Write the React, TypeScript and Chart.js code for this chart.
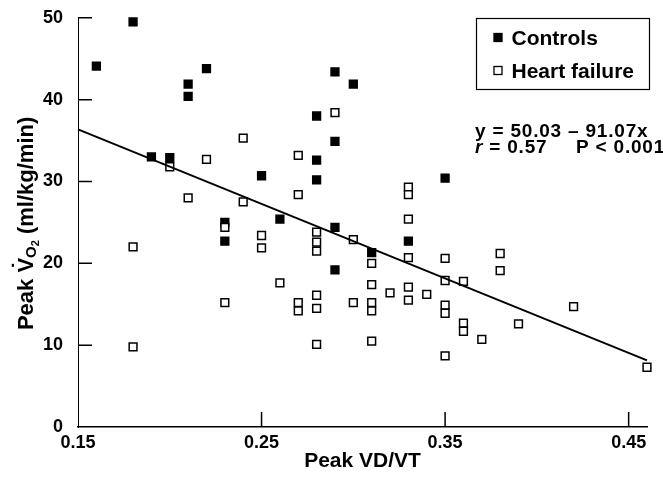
import React, { useEffect, useRef } from "react";
import { Chart, registerables } from "chart.js";

Chart.register(...registerables);

const FONT = '"Liberation Sans", Arial, Helvetica, sans-serif';

const seriesNames = ["Controls", "Heart failure"];

const controlsX = [0.16, 0.18, 0.19, 0.2, 0.21, 0.21, 0.22, 0.23, 0.23, 0.25, 0.26, 0.28, 0.28, 0.28, 0.29, 0.29, 0.29, 0.29, 0.3, 0.31, 0.33, 0.35];
const controlsY = [44.1, 49.5, 33.0, 32.9, 41.9, 40.4, 43.8, 25.0, 22.7, 30.7, 25.4, 38.0, 32.6, 30.2, 43.4, 34.9, 24.4, 19.2, 41.9, 21.3, 22.7, 30.4];

const heartX = [
  0.18, 0.18, 0.2, 0.21, 0.22, 0.23, 0.23, 0.24, 0.24, 0.25, 0.25, 0.26, 0.27, 0.27, 0.27, 0.27,
  0.28, 0.28, 0.28, 0.28, 0.28, 0.28, 0.29, 0.3, 0.3, 0.31, 0.31, 0.31, 0.31, 0.31, 0.32,
  0.33, 0.33, 0.33, 0.33, 0.33, 0.33, 0.34, 0.35, 0.35, 0.35, 0.35, 0.35, 0.36, 0.36, 0.36,
  0.37, 0.38, 0.38, 0.39, 0.42, 0.46,
];
const heartY = [
  22.0, 9.8, 31.8, 28.0, 32.7, 24.4, 15.2, 35.3, 27.5, 23.4, 21.9, 17.6, 33.2, 28.4, 15.2, 14.2,
  23.8, 22.6, 21.5, 16.1, 14.5, 10.1, 38.4, 22.9, 15.2, 20.0, 17.4, 15.2, 14.2, 10.5, 16.4,
  29.3, 28.4, 25.4, 20.7, 17.1, 15.5, 16.2, 20.6, 17.9, 14.9, 13.9, 8.7, 17.8, 12.7, 11.7,
  10.7, 21.2, 19.1, 12.6, 14.7, 7.3,
];

// regression line end points (y = 50.03 - 91.07x)
const fitX = [0.15, 0.46];
const fitY = [36.37, 8.14];

const xTicks = [0.15, 0.25, 0.35, 0.45];
const yTicks = [0, 10, 20, 30, 40, 50];

const xTitle = "Peak VD/VT";
const eqLine1 = "y = 50.03 \u2013 91.07x";
const eqR = "r";
const eqRVal = " = 0.57";
const eqP = "P < 0.001";

const pts = (xs: number[], ys: number[]) => xs.map((x, i) => ({ x, y: ys[i] }));

const decorPlugin = {
  id: "decor",
  afterDraw(chart: any) {
    const { ctx, chartArea: ca, scales } = chart;
    const sx = scales.x;
    const sy = scales.y;
    ctx.save();
    // inward ticks
    ctx.strokeStyle = "#000";
    ctx.lineWidth = 1.5;
    ctx.beginPath();
    yTicks.forEach((v) => {
      if (v === yTicks[0]) return;
      const py = sy.getPixelForValue(v);
      ctx.moveTo(ca.left, py);
      ctx.lineTo(ca.left + 14, py);
    });
    xTicks.forEach((v) => {
      if (v === xTicks[0]) return;
      const px = sx.getPixelForValue(v);
      ctx.moveTo(px, ca.bottom);
      ctx.lineTo(px, ca.bottom - 15);
    });
    ctx.stroke();

    ctx.fillStyle = "#000";
    const big = `bold 21px ${FONT}`;
    const bigY = `bold 22px ${FONT}`;

    // x title
    ctx.font = big;
    ctx.textAlign = "center";
    ctx.textBaseline = "alphabetic";
    ctx.fillText(xTitle, (ca.left + ca.right) / 2, 467);

    // y title (rotated)
    ctx.save();
    ctx.translate(33, (ca.top + ca.bottom) / 2 + 1);
    ctx.rotate(-Math.PI / 2);
    ctx.textAlign = "left";
    const parts = [
      { t: "Peak V", f: bigY, dy: 0 },
      { t: "O", f: `bold 15px ${FONT}`, dy: 3 },
      { t: "2", f: `bold 11px ${FONT}`, dy: 6 },
      { t: " (ml/kg/min)", f: bigY, dy: 0 },
    ];
    let total = 0;
    const widths = parts.map((p) => {
      ctx.font = p.f;
      const w = ctx.measureText(p.t).width;
      total += w;
      return w;
    });
    let cx = -total / 2;
    ctx.font = bigY;
    const wPeak = ctx.measureText("Peak ").width;
    const wV = ctx.measureText("V").width;
    const vCenter = cx + wPeak + wV / 2;
    parts.forEach((p, i) => {
      ctx.font = p.f;
      ctx.fillText(p.t, cx, p.dy);
      cx += widths[i];
    });
    ctx.font = bigY;
    ctx.textAlign = "center";
    ctx.fillText("\u02D9", vCenter, -5);
    ctx.restore();

    // legend box
    const ds = chart.data.datasets;
    ctx.lineWidth = 1.2;
    ctx.strokeStyle = "#000";
    ctx.strokeRect(476.5, 18.5, 173, 71);
    const rows = [45, 78];
    [0, 1].forEach((i) => {
      const d = ds[i];
      const my = rows[i] - 7.5;
      ctx.fillStyle = d.backgroundColor;
      ctx.fillRect(494, my - 4, 8, 8);
      ctx.lineWidth = 1.3;
      ctx.strokeStyle = d.borderColor;
      ctx.strokeRect(494, my - 4, 8, 8);
      ctx.fillStyle = "#000";
      ctx.font = big;
      ctx.textAlign = "left";
      ctx.fillText(d.label, 511.5, rows[i]);
    });

    // equation
    ctx.textAlign = "left";
    (ctx as any).letterSpacing = "0.8px";
    ctx.font = `bold 19px ${FONT}`;
    ctx.fillText(eqLine1, 475, 136.5);
    ctx.font = `italic bold 19px ${FONT}`;
    ctx.fillText(eqR, 475, 152.5);
    const wr = ctx.measureText(eqR).width;
    ctx.font = `bold 19px ${FONT}`;
    ctx.fillText(eqRVal, 475 + wr, 152.5);
    ctx.fillText(eqP, 576, 152.5);
    (ctx as any).letterSpacing = "0px";
    ctx.restore();
  },
};

export default function App() {
  const ref = useRef<HTMLCanvasElement | null>(null);
  useEffect(() => {
    if (!ref.current) return;
    const tickFont = { family: FONT, size: 18, weight: "bold" as const };
    const chart = new Chart(ref.current, {
      type: "scatter",
      data: {
        datasets: [
          {
            label: seriesNames[0],
            data: pts(controlsX, controlsY),
            pointStyle: "rect",
            pointRadius: 5.5,
            backgroundColor: "#000",
            borderColor: "#000",
            borderWidth: 1.5,
            clip: false,
            order: 2,
          } as any,
          {
            label: seriesNames[1],
            data: pts(heartX, heartY),
            pointStyle: "rect",
            pointRadius: 5.5,
            backgroundColor: "#fff",
            borderColor: "#000",
            borderWidth: 1.5,
            clip: false,
            order: 1,
          } as any,
          {
            label: "fit",
            data: pts(fitX, fitY),
            showLine: true,
            pointRadius: 0,
            borderColor: "#000",
            backgroundColor: "#000",
            borderWidth: 2,
            fill: false,
            clip: false,
            order: 0,
          } as any,
        ],
      },
      options: {
        responsive: false,
        animation: false,
        layout: { padding: { top: 16, right: 16, left: 0, bottom: 0 } },
        plugins: {
          legend: { display: false },
          tooltip: { enabled: false },
          title: { display: false },
        },
        scales: {
          x: {
            type: "linear",
            min: 0.15,
            max: 0.46,
            afterBuildTicks: (s: any) => {
              s.ticks = xTicks.map((v) => ({ value: v }));
            },
            afterFit: (s: any) => {
              s.height = 57;
            },
            grid: { display: false },
            border: { display: true, color: "#000", width: 1.5 },
            ticks: {
              color: "#000",
              font: tickFont,
              padding: -3,
              maxRotation: 0,
              autoSkip: false,
              callback: (v: any) => Number(v).toFixed(2),
            },
          },
          y: {
            type: "linear",
            min: 0,
            max: 50,
            afterBuildTicks: (s: any) => {
              s.ticks = yTicks.map((v) => ({ value: v }));
            },
            afterFit: (s: any) => {
              s.width = 78;
            },
            grid: { display: false },
            border: { display: true, color: "#000", width: 1 },
            ticks: {
              color: "#000",
              font: tickFont,
              padding: 7,
              callback: (v: any) => String(v),
            },
          },
        },
      },
      plugins: [decorPlugin],
    });
    return () => chart.destroy();
  }, []);
  return (
    <div style={{ position: "absolute", left: 0, top: 0, width: 663, height: 484, background: "#fff" }}>
      <canvas ref={ref} width={663} height={484} />
    </div>
  );
}
